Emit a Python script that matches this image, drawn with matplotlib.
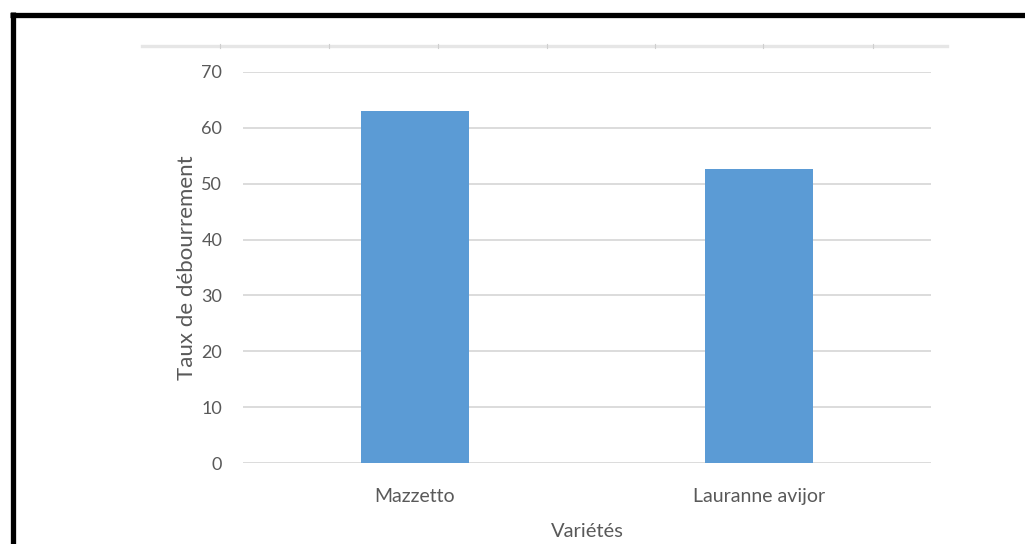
import matplotlib
matplotlib.use("Agg")
import matplotlib.pyplot as plt
from matplotlib.lines import Line2D

categories = ["Mazzetto", "Lauranne avijor"]
values = [63.0, 52.6]
yticks = [0, 10, 20, 30, 40, 50, 60, 70]
ylabel = "Taux de débourrement"
xlabel = "Variétés"

W, H = 1025, 544
plt.rcParams['font.family'] = ['Lato', 'DejaVu Sans']
fig = plt.figure(figsize=(W / 100, H / 100), dpi=100)
fig.patch.set_facecolor('white')

def fx(px):
    return px / W

def fy(py):
    return 1 - py / H

ax = fig.add_axes([fx(243), fy(463), fx(931) - fx(243), fy(72) - fy(463)])
ax.bar(range(len(categories)), values, width=0.315, color='#5b9bd5', zorder=3)
ax.set_xlim(-0.5, len(categories) - 0.5)
ax.set_ylim(0, 70)
ax.set_yticks(yticks)
ax.set_xticks(range(len(categories)))
ax.set_xticklabels(categories)
ax.grid(axis='y', color='#d9d9d9', linewidth=1.3, zorder=0)
for s in ax.spines.values():
    s.set_visible(False)
ax.tick_params(axis='both', length=0, colors='#595959')
ax.tick_params(axis='y', pad=15, labelsize=13)
ax.tick_params(axis='x', pad=18, labelsize=14)
ax.set_ylabel(ylabel, fontsize=16, color='#595959', labelpad=3)
ax.set_xlabel(xlabel, fontsize=14.5, color='#595959', labelpad=13)

# top decorative light line with small tick marks
fig.add_artist(Line2D([fx(142), fx(947)], [fy(46), fy(46)], color='#e6e6e6', linewidth=2.4))
for tx in [220, 329, 438, 547, 655, 763, 873]:
    fig.add_artist(Line2D([fx(tx), fx(tx)], [fy(44), fy(48)], color='#cfcfcf', linewidth=0.8))

# black frame (left and top)
fig.add_artist(Line2D([fx(12.5), fx(12.5)], [fy(12), fy(H + 5)], color='black', linewidth=3.8, solid_capstyle='butt'))
fig.add_artist(Line2D([fx(10), fx(W + 5)], [fy(14.5), fy(14.5)], color='black', linewidth=3.8, solid_capstyle='butt'))

fig.savefig('out.png', dpi=100, facecolor='white')
